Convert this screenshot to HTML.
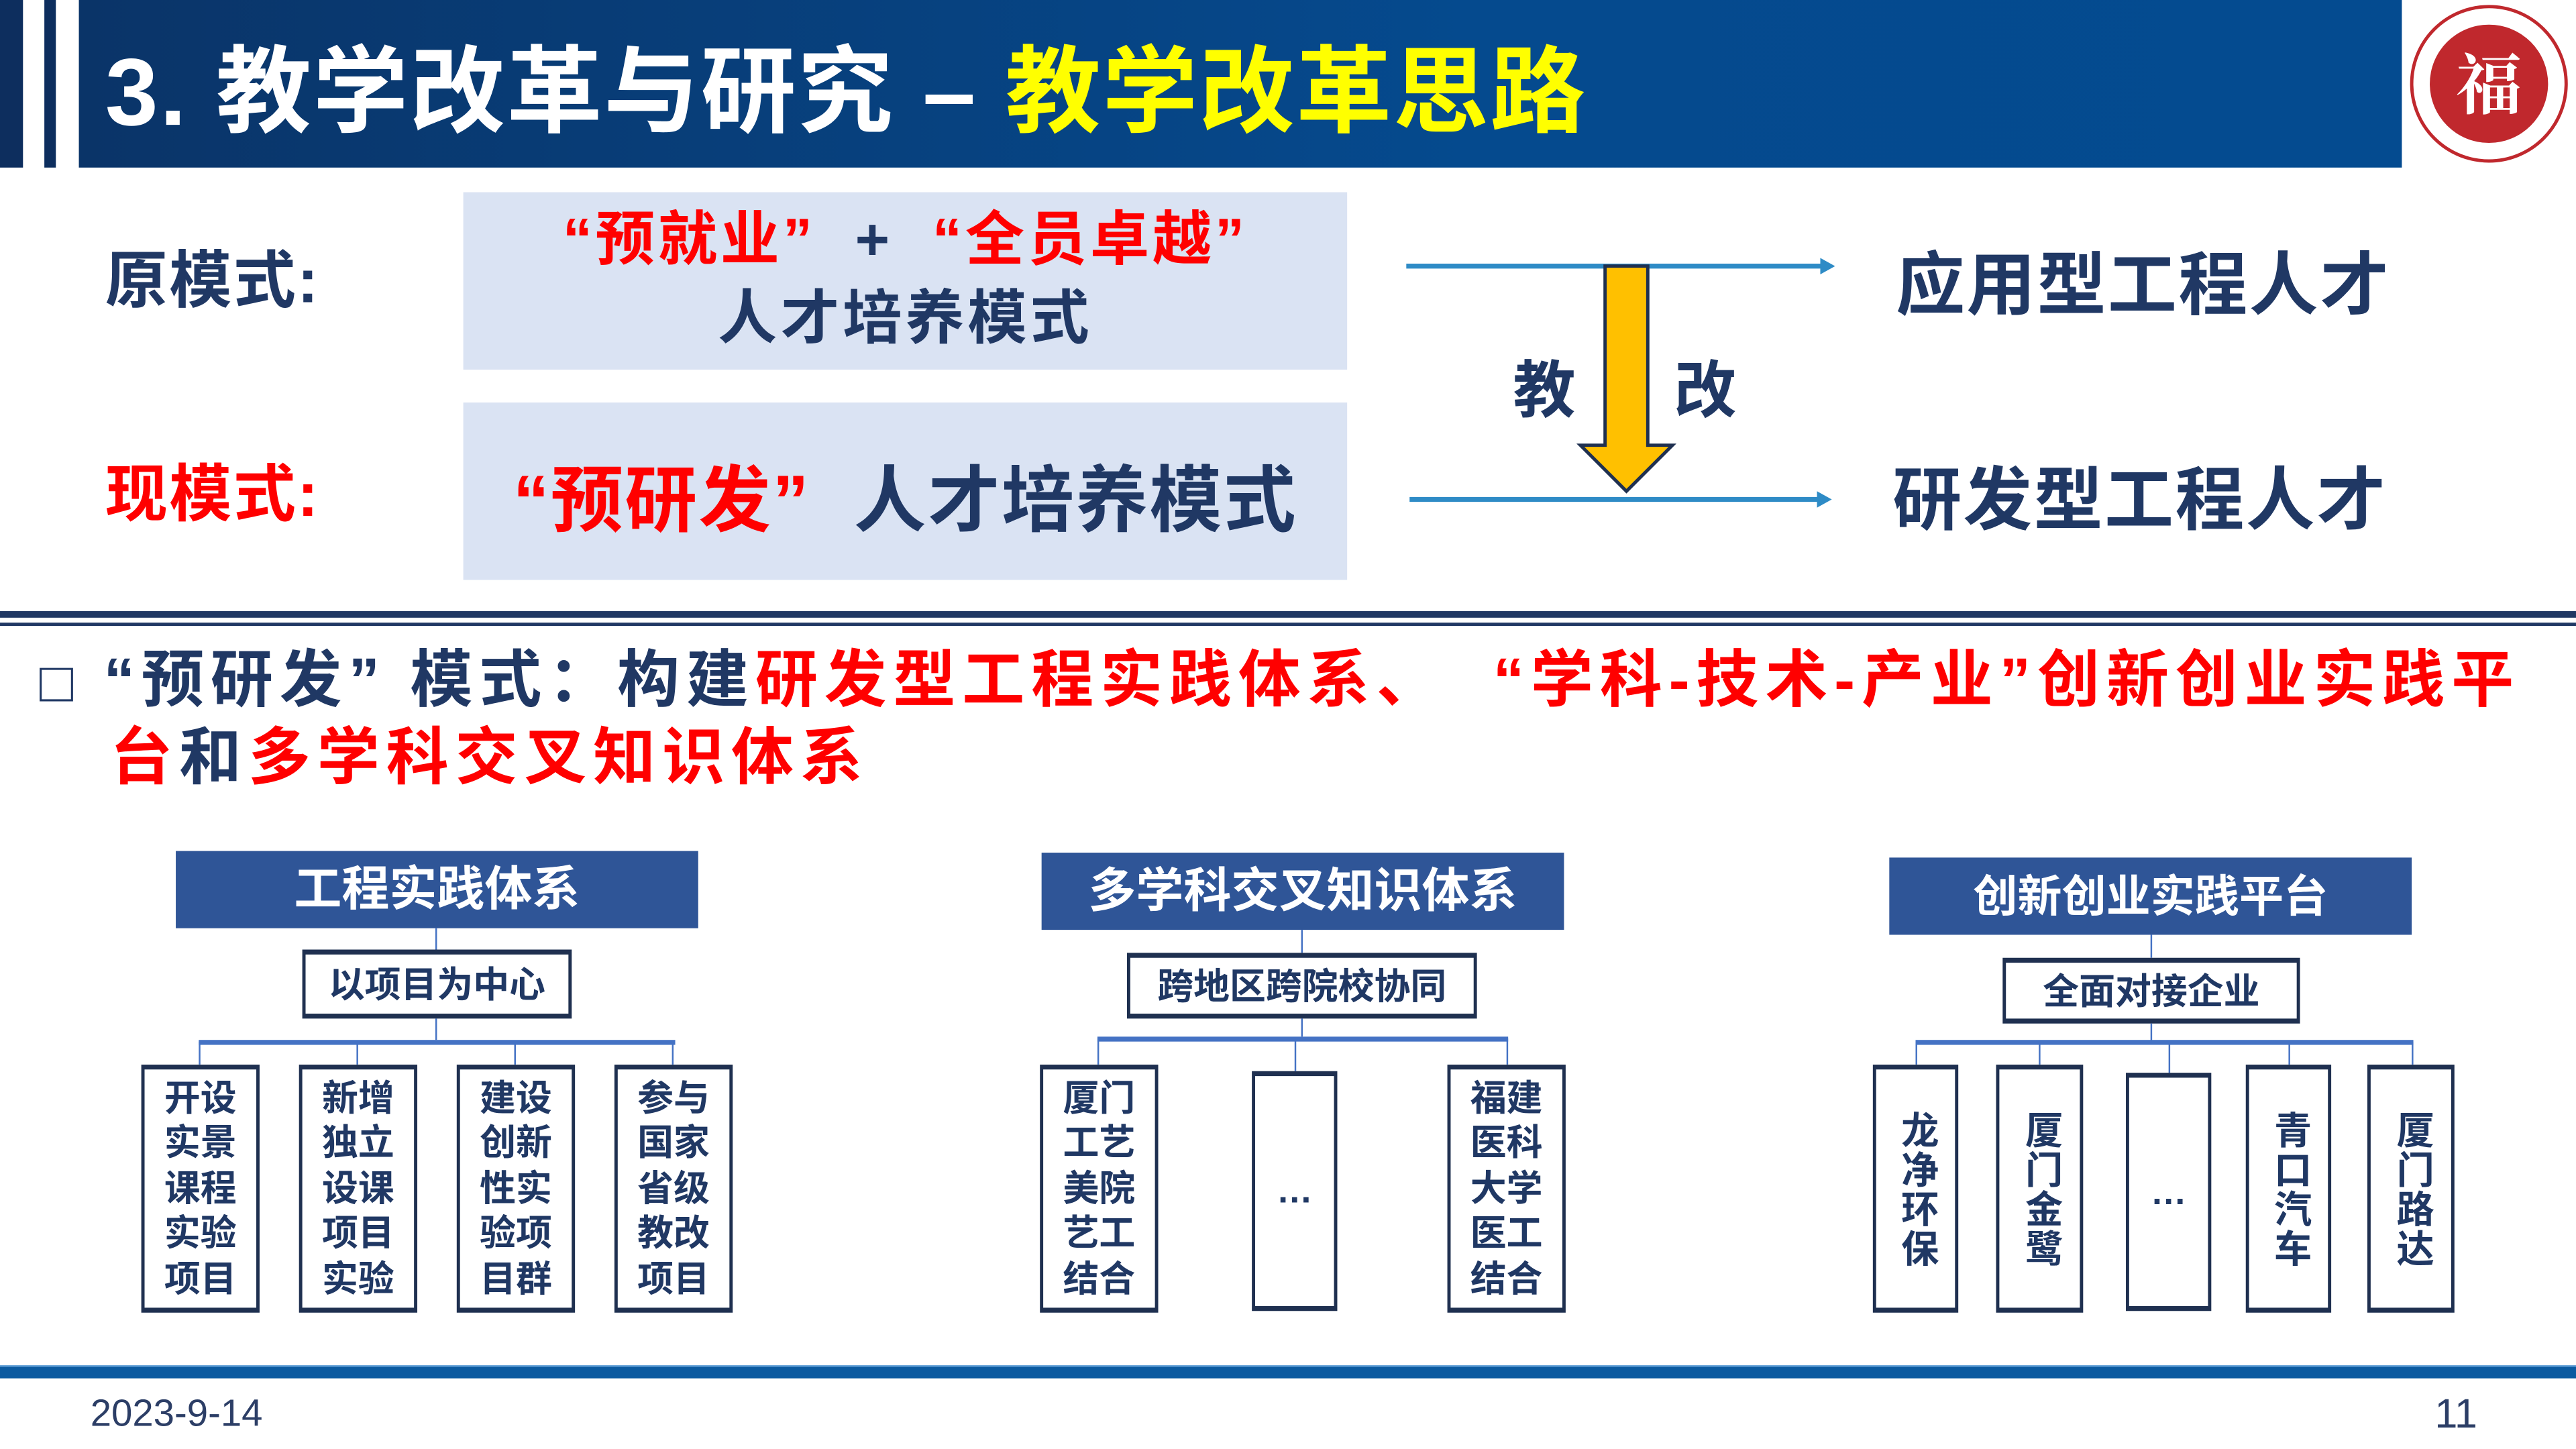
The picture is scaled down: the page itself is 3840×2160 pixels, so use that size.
<!DOCTYPE html>
<html><head><meta charset="utf-8"><style>
html,body{margin:0;padding:0;background:#fff;overflow:hidden}
body{width:3840px;height:2160px}
#w{position:absolute;left:0;top:0;width:1568px;height:882px;transform:scale(2.44898);transform-origin:0 0;font-family:"Liberation Sans","Noto Sans CJK SC",sans-serif;font-weight:bold}
.a{position:absolute;white-space:nowrap}
.n{color:#203864}.r{color:#ff0000}
.hd{position:absolute;background:#2f5597;color:#fff;font-size:29px;text-align:center}
.sb{position:absolute;background:#fff;border:2px solid #1f3050;border-top-width:3px;border-bottom-width:3px;box-sizing:border-box;color:#203864;font-size:22px;text-align:center}
.lf{position:absolute;background:#fff;border:2px solid #1f3050;border-top-width:3px;border-bottom-width:3px;box-sizing:border-box;color:#203864;font-size:22px;text-align:center;line-height:27.5px;display:flex;align-items:center;justify-content:center}
.v{writing-mode:vertical-rl;letter-spacing:1px;font-size:23px}
.ln{position:absolute;background:#4472c4}
</style></head><body><div id="w">
<!-- header -->
<div class="a" style="left:0;top:0;width:14px;height:102px;background:#0d2e5e"></div>
<div class="a" style="left:27px;top:0;width:7px;height:102px;background:#0d2e5e"></div>
<div class="a" style="left:48px;top:0;width:1414px;height:102px;background:linear-gradient(90deg,#0a3468,#054a8e 60%,#044b90)"></div>
<div class="a" style="left:64px;top:22px;font-size:58px;color:#fff;line-height:70px;letter-spacing:1px">3. 教学改革与研究 – <span style="color:#ffff00">教学改革思路</span></div>
<svg class="a" style="left:1462px;top:0" width="106" height="102"><circle cx="53" cy="51" r="47" fill="#fff" stroke="#c0282d" stroke-width="2"/><circle cx="53" cy="51" r="36" fill="#c0282d"/><text x="53" y="66" font-size="40" fill="#fff" text-anchor="middle" font-family="Noto Serif CJK SC,serif">福</text></svg>
<!-- top boxes -->
<div class="a" style="left:282px;top:117px;width:538px;height:108px;background:#dae3f3"></div>
<div class="a" style="left:282px;top:245px;width:538px;height:108px;background:#dae3f3"></div>
<div class="a n" style="left:64px;top:140px;font-size:38px;letter-spacing:1px">原模式:</div>
<div class="a r" style="left:64px;top:270px;font-size:38px;letter-spacing:1px">现模式:</div>
<div class="a" style="left:282px;top:122px;width:538px;text-align:center;font-size:36px;line-height:48px;letter-spacing:2px"><span class="r">“预就业”</span><span class="n">&nbsp;&nbsp;+&nbsp;&nbsp;</span><span class="r">“全员卓越”</span><br><span class="n">人才培养模式</span></div>
<div class="a" style="left:282px;top:269px;width:538px;text-align:center;font-size:44px;letter-spacing:1px"><span class="r">“预研发”</span><span class="n">&nbsp;&nbsp;人才培养模式</span></div>
<svg class="a" style="left:0;top:0" width="1568" height="400">
<line x1="856" y1="162" x2="1110" y2="162" stroke="#2e8bc6" stroke-width="3"/><polygon points="1108,157 1117,162 1108,167" fill="#2e8bc6"/>
<line x1="858" y1="304" x2="1108" y2="304" stroke="#2e8bc6" stroke-width="3"/><polygon points="1106,299 1115,304 1106,309" fill="#2e8bc6"/>
<polygon points="977,162 1003,162 1003,271 1018,271 990,299 962,271 977,271" fill="#ffc000" stroke="#1f3050" stroke-width="2"/>
</svg>
<div class="a n" style="left:921px;top:207px;font-size:38px">教</div>
<div class="a n" style="left:1019px;top:207px;font-size:38px">改</div>
<div class="a n" style="left:1154px;top:140px;font-size:42px;letter-spacing:1px">应用型工程人才</div>
<div class="a n" style="left:1152px;top:271px;font-size:42px;letter-spacing:1px">研发型工程人才</div>
<!-- divider -->
<div class="a" style="left:0;top:372px;width:1568px;height:4px;background:#203864"></div>
<div class="a" style="left:0;top:379px;width:1568px;height:2px;background:#203864"></div>
<div class="a n" style="left:24px;top:392px;font-size:38px;line-height:46px;letter-spacing:4px"><span style="font-size:34px">□</span>&nbsp;“预研发”&nbsp;模式：构建<span class="r">研发型工程实践体系、&nbsp;&nbsp;“学科-技术-产业”创新创业实践平</span></div>
<div class="a" style="left:67px;top:439px;font-size:38px;line-height:46px;letter-spacing:4px"><span class="r">台</span><span class="n">和</span><span class="r">多学科交叉知识体系</span></div>
<!-- diagram A -->
<div class="hd" style="left:107px;top:518px;width:318px;height:47px;line-height:49px">工程实践体系</div>
<div class="ln" style="left:265px;top:565px;width:1px;height:13px"></div>
<div class="sb" style="left:184px;top:578px;width:164px;height:42px;line-height:38px">以项目为中心</div>
<div class="ln" style="left:265px;top:620px;width:1px;height:13px"></div>
<div class="ln" style="left:121px;top:633px;width:290px;height:3px"></div>
<div class="ln" style="left:121px;top:634px;width:1px;height:14px"></div>
<div class="ln" style="left:217px;top:634px;width:1px;height:14px"></div>
<div class="ln" style="left:313px;top:634px;width:1px;height:14px"></div>
<div class="ln" style="left:409px;top:634px;width:1px;height:14px"></div>
<div class="lf" style="left:86px;top:648px;width:72px;height:151px">开设<br>实景<br>课程<br>实验<br>项目</div>
<div class="lf" style="left:182px;top:648px;width:72px;height:151px">新增<br>独立<br>设课<br>项目<br>实验</div>
<div class="lf" style="left:278px;top:648px;width:72px;height:151px">建设<br>创新<br>性实<br>验项<br>目群</div>
<div class="lf" style="left:374px;top:648px;width:72px;height:151px">参与<br>国家<br>省级<br>教改<br>项目</div>
<!-- diagram B -->
<div class="hd" style="left:634px;top:519px;width:318px;height:47px;line-height:49px">多学科交叉知识体系</div>
<div class="ln" style="left:792px;top:566px;width:1px;height:14px"></div>
<div class="sb" style="left:686px;top:580px;width:213px;height:40px;line-height:36px">跨地区跨院校协同</div>
<div class="ln" style="left:792px;top:620px;width:1px;height:11px"></div>
<div class="ln" style="left:668px;top:631px;width:250px;height:3px"></div>
<div class="ln" style="left:668px;top:632px;width:1px;height:16px"></div>
<div class="ln" style="left:788px;top:632px;width:1px;height:20px"></div>
<div class="ln" style="left:917px;top:632px;width:1px;height:16px"></div>
<div class="lf" style="left:633px;top:648px;width:72px;height:151px">厦门<br>工艺<br>美院<br>艺工<br>结合</div>
<div class="lf" style="left:762px;top:652px;width:52px;height:146px">…</div>
<div class="lf" style="left:881px;top:648px;width:72px;height:151px">福建<br>医科<br>大学<br>医工<br>结合</div>
<!-- diagram C -->
<div class="hd" style="left:1150px;top:522px;width:318px;height:47px;line-height:49px;font-size:27px">创新创业实践平台</div>
<div class="ln" style="left:1309px;top:569px;width:1px;height:14px"></div>
<div class="sb" style="left:1219px;top:583px;width:181px;height:40px;line-height:36px">全面对接企业</div>
<div class="ln" style="left:1309px;top:623px;width:1px;height:11px"></div>
<div class="ln" style="left:1166px;top:633px;width:303px;height:3px"></div>
<div class="ln" style="left:1166px;top:634px;width:1px;height:14px"></div>
<div class="ln" style="left:1241px;top:634px;width:1px;height:14px"></div>
<div class="ln" style="left:1320px;top:634px;width:1px;height:19px"></div>
<div class="ln" style="left:1393px;top:634px;width:1px;height:14px"></div>
<div class="ln" style="left:1468px;top:634px;width:1px;height:14px"></div>
<div class="lf" style="left:1140px;top:648px;width:52px;height:151px"><span class="v">龙净环保</span></div>
<div class="lf" style="left:1215px;top:648px;width:53px;height:151px"><span class="v">厦门金鹭</span></div>
<div class="lf" style="left:1294px;top:653px;width:52px;height:145px">…</div>
<div class="lf" style="left:1367px;top:648px;width:52px;height:151px"><span class="v">青口汽车</span></div>
<div class="lf" style="left:1441px;top:648px;width:53px;height:151px"><span class="v">厦门路达</span></div>
<!-- footer -->
<div class="a" style="left:0;top:831px;width:1568px;height:1px;background:#5b9bd5"></div>
<div class="a" style="left:0;top:832px;width:1568px;height:7px;background:#0b5aa0"></div>
<div class="a n" style="left:55px;top:847px;font-size:23px;font-weight:normal;color:#2c3e66">2023-9-14</div>
<div class="a n" style="left:1482px;top:847px;font-size:25px;font-weight:normal;color:#2c3e66">11</div>
</div></body></html>
